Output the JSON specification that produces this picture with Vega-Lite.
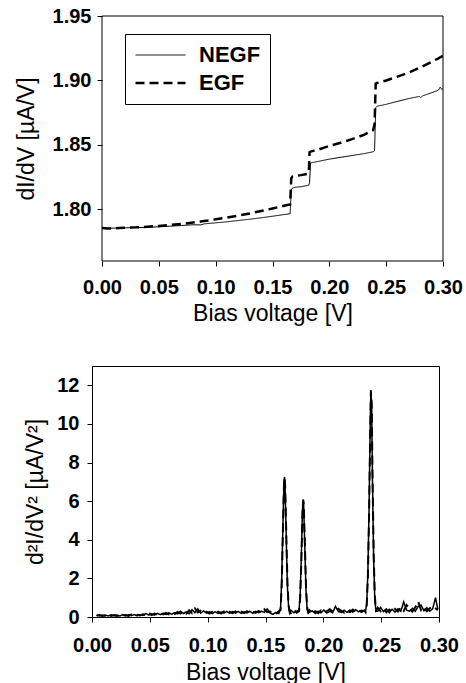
{
  "$schema": "https://vega.github.io/schema/vega-lite/v6.json",
  "padding": {"left": 15, "top": 6, "right": 0, "bottom": 0},
  "config": {
    "font": "Liberation Sans",
    "view": {"stroke": "black", "strokeWidth": 1},
    "axis": {
      "grid": false,
      "domainColor": "black",
      "tickColor": "black",
      "tickSize": 5,
      "labelFont": "Liberation Sans",
      "labelFontWeight": "bold",
      "labelFontSize": 20,
      "labelColor": "black",
      "labelFlush": false,
      "labelOverlap": false,
      "titleFont": "Liberation Sans",
      "titleFontWeight": "normal",
      "titleFontSize": 23,
      "titleColor": "black"
    }
  },
  "spacing": 40,
  "vconcat": [
    {
      "width": 351,
      "height": 245,
      "view": {"stroke": null},
      "layer": [
        {
          "data": {"values": [{}]},
          "mark": {"type": "rect", "fillOpacity": 0, "stroke": "black", "strokeWidth": 1},
          "encoding": {
            "x": {"datum": 0, "type": "quantitative"},
            "x2": {"datum": 0.3},
            "y": {"datum": 1.76, "type": "quantitative"},
            "y2": {"datum": 1.95}
          }
        },
        {
          "data": {"values": [
            {"v":0.000,"NEGF":1.7855,"EGF":1.7855},
            {"v":0.005,"NEGF":1.7854,"EGF":1.7853},
            {"v":0.010,"NEGF":1.7855,"EGF":1.7852},
            {"v":0.015,"NEGF":1.7856,"EGF":1.7855},
            {"v":0.020,"NEGF":1.7857,"EGF":1.7858},
            {"v":0.030,"NEGF":1.7859,"EGF":1.7861},
            {"v":0.040,"NEGF":1.7862,"EGF":1.7866},
            {"v":0.050,"NEGF":1.7865,"EGF":1.7872},
            {"v":0.060,"NEGF":1.7870,"EGF":1.7879},
            {"v":0.070,"NEGF":1.7875,"EGF":1.7888},
            {"v":0.080,"NEGF":1.7881,"EGF":1.7898},
            {"v":0.087,"NEGF":1.7880,"EGF":1.7906},
            {"v":0.090,"NEGF":1.7888,"EGF":1.7910},
            {"v":0.100,"NEGF":1.7896,"EGF":1.7923},
            {"v":0.110,"NEGF":1.7904,"EGF":1.7937},
            {"v":0.120,"NEGF":1.7914,"EGF":1.7952},
            {"v":0.130,"NEGF":1.7924,"EGF":1.7969},
            {"v":0.140,"NEGF":1.7935,"EGF":1.7988},
            {"v":0.150,"NEGF":1.7947,"EGF":1.8007},
            {"v":0.160,"NEGF":1.7960,"EGF":1.8028},
            {"v":0.1655,"NEGF":1.7966,"EGF":1.8039},
            {"v":0.1665,"NEGF":1.8150,"EGF":1.8240},
            {"v":0.1675,"NEGF":1.8165,"EGF":1.8255},
            {"v":0.170,"NEGF":1.8172,"EGF":1.8260},
            {"v":0.175,"NEGF":1.8176,"EGF":1.8266},
            {"v":0.1810,"NEGF":1.8186,"EGF":1.8276},
            {"v":0.1820,"NEGF":1.8188,"EGF":1.8300},
            {"v":0.1826,"NEGF":1.8210,"EGF":1.8443},
            {"v":0.1835,"NEGF":1.8360,"EGF":1.8448},
            {"v":0.1850,"NEGF":1.8363,"EGF":1.8452},
            {"v":0.190,"NEGF":1.8372,"EGF":1.8463},
            {"v":0.200,"NEGF":1.8390,"EGF":1.8492},
            {"v":0.210,"NEGF":1.8404,"EGF":1.8517},
            {"v":0.220,"NEGF":1.8418,"EGF":1.8545},
            {"v":0.230,"NEGF":1.8432,"EGF":1.8577},
            {"v":0.2385,"NEGF":1.8447,"EGF":1.8614},
            {"v":0.2398,"NEGF":1.8455,"EGF":1.8660},
            {"v":0.2408,"NEGF":1.8790,"EGF":1.8976},
            {"v":0.2420,"NEGF":1.8800,"EGF":1.8980},
            {"v":0.250,"NEGF":1.8815,"EGF":1.9000},
            {"v":0.260,"NEGF":1.8838,"EGF":1.9030},
            {"v":0.270,"NEGF":1.8860,"EGF":1.9062},
            {"v":0.279,"NEGF":1.8876,"EGF":1.9097},
            {"v":0.2805,"NEGF":1.8868,"EGF":1.9103},
            {"v":0.282,"NEGF":1.8880,"EGF":1.9110},
            {"v":0.290,"NEGF":1.8905,"EGF":1.9145},
            {"v":0.296,"NEGF":1.8925,"EGF":1.9172},
            {"v":0.2975,"NEGF":1.8948,"EGF":1.9180},
            {"v":0.2990,"NEGF":1.8930,"EGF":1.9186},
            {"v":0.300,"NEGF":1.8940,"EGF":1.9190}
          ]},
          "transform": [{"fold": ["NEGF", "EGF"], "as": ["series", "value"]}],
          "mark": {"type": "line", "color": "black", "clip": true},
          "encoding": {
            "x": {"field": "v", "type": "quantitative"},
            "y": {"field": "value", "type": "quantitative"},
            "strokeDash": {"field": "series", "type": "ordinal",
              "scale": {"domain": ["NEGF", "EGF"], "range": [[1, 0], [9, 5]]},
              "legend": {"orient": "none", "legendX": 33, "legendY": 18, "title": null, "strokeColor": "black", "fillColor": "white", "padding": 9, "symbolType": "stroke", "symbolSize": 2500, "clipHeight": 24, "rowPadding": 4, "labelFontSize": 22, "labelFontWeight": "bold", "labelFont": "Liberation Sans", "labelColor": "black", "labelOffset": 12, "symbolStrokeColor": "black"}},
            "strokeWidth": {"field": "series", "type": "ordinal",
              "scale": {"domain": ["NEGF", "EGF"], "range": [1, 2.5]},
              "legend": {"orient": "none", "legendX": 33, "legendY": 18, "title": null, "strokeColor": "black", "fillColor": "white", "padding": 9, "symbolType": "stroke", "symbolSize": 2500, "clipHeight": 24, "rowPadding": 4, "labelFontSize": 22, "labelFontWeight": "bold", "labelFont": "Liberation Sans", "labelColor": "black", "labelOffset": 12, "symbolStrokeColor": "black"}}
          }
        }
      ],
      "encoding": {
        "x": {"type": "quantitative",
          "scale": {"domain": [0, 0.3], "nice": false, "zero": false, "rangeMin": 10},
          "axis": {"values": [0, 0.05, 0.1, 0.15, 0.2, 0.25, 0.3], "format": ".2f", "title": "Bias voltage [V]", "labelPadding": 11, "titlePadding": 5, "domain": false}},
        "y": {"type": "quantitative",
          "scale": {"domain": [1.76, 1.95], "nice": false, "zero": false},
          "axis": {"values": [1.8, 1.85, 1.9, 1.95], "format": ".2f", "title": "dI/dV [µA/V]", "labelPadding": 6, "titlePadding": 14, "offset": -10, "domain": false}}
      }
    },
    {
      "width": 347,
      "height": 251,
      "data": {"values": [
        {"v":0.0040,"NEGF":0.05,"EGF":0.10},
        {"v":0.0065,"NEGF":0.12,"EGF":0.06},
        {"v":0.0090,"NEGF":0.04,"EGF":0.09},
        {"v":0.0115,"NEGF":0.10,"EGF":0.05},
        {"v":0.0140,"NEGF":0.05,"EGF":0.11},
        {"v":0.0165,"NEGF":0.11,"EGF":0.06},
        {"v":0.0190,"NEGF":0.06,"EGF":0.10},
        {"v":0.0215,"NEGF":0.10,"EGF":0.05},
        {"v":0.0240,"NEGF":0.05,"EGF":0.11},
        {"v":0.0265,"NEGF":0.12,"EGF":0.07},
        {"v":0.0290,"NEGF":0.06,"EGF":0.10},
        {"v":0.0315,"NEGF":0.11,"EGF":0.06},
        {"v":0.0340,"NEGF":0.07,"EGF":0.13},
        {"v":0.0365,"NEGF":0.13,"EGF":0.07},
        {"v":0.0390,"NEGF":0.06,"EGF":0.11},
        {"v":0.0415,"NEGF":0.12,"EGF":0.08},
        {"v":0.0440,"NEGF":0.08,"EGF":0.14},
        {"v":0.0465,"NEGF":0.18,"EGF":0.09},
        {"v":0.0490,"NEGF":0.10,"EGF":0.22},
        {"v":0.0515,"NEGF":0.16,"EGF":0.10},
        {"v":0.0540,"NEGF":0.10,"EGF":0.18},
        {"v":0.0565,"NEGF":0.19,"EGF":0.12},
        {"v":0.0590,"NEGF":0.12,"EGF":0.20},
        {"v":0.0615,"NEGF":0.20,"EGF":0.13},
        {"v":0.0640,"NEGF":0.13,"EGF":0.21},
        {"v":0.0665,"NEGF":0.22,"EGF":0.14},
        {"v":0.0690,"NEGF":0.14,"EGF":0.20},
        {"v":0.0715,"NEGF":0.23,"EGF":0.15},
        {"v":0.0740,"NEGF":0.16,"EGF":0.26},
        {"v":0.0765,"NEGF":0.30,"EGF":0.18},
        {"v":0.0790,"NEGF":0.18,"EGF":0.27},
        {"v":0.0815,"NEGF":0.27,"EGF":0.17},
        {"v":0.0840,"NEGF":0.17,"EGF":0.35},
        {"v":0.0865,"NEGF":0.38,"EGF":0.20},
        {"v":0.0890,"NEGF":0.22,"EGF":0.44},
        {"v":0.0915,"NEGF":0.42,"EGF":0.24},
        {"v":0.0940,"NEGF":0.20,"EGF":0.32},
        {"v":0.0965,"NEGF":0.31,"EGF":0.19},
        {"v":0.0990,"NEGF":0.20,"EGF":0.28},
        {"v":0.1015,"NEGF":0.28,"EGF":0.18},
        {"v":0.1040,"NEGF":0.18,"EGF":0.26},
        {"v":0.1065,"NEGF":0.27,"EGF":0.19},
        {"v":0.1090,"NEGF":0.19,"EGF":0.28},
        {"v":0.1115,"NEGF":0.26,"EGF":0.18},
        {"v":0.1140,"NEGF":0.20,"EGF":0.29},
        {"v":0.1165,"NEGF":0.29,"EGF":0.19},
        {"v":0.1190,"NEGF":0.19,"EGF":0.27},
        {"v":0.1215,"NEGF":0.28,"EGF":0.20},
        {"v":0.1240,"NEGF":0.20,"EGF":0.29},
        {"v":0.1265,"NEGF":0.29,"EGF":0.19},
        {"v":0.1290,"NEGF":0.19,"EGF":0.28},
        {"v":0.1315,"NEGF":0.27,"EGF":0.20},
        {"v":0.1340,"NEGF":0.21,"EGF":0.30},
        {"v":0.1365,"NEGF":0.30,"EGF":0.20},
        {"v":0.1390,"NEGF":0.19,"EGF":0.28},
        {"v":0.1415,"NEGF":0.29,"EGF":0.21},
        {"v":0.1440,"NEGF":0.22,"EGF":0.31},
        {"v":0.1465,"NEGF":0.30,"EGF":0.21},
        {"v":0.1490,"NEGF":0.24,"EGF":0.40},
        {"v":0.1515,"NEGF":0.42,"EGF":0.25},
        {"v":0.1540,"NEGF":0.20,"EGF":0.28},
        {"v":0.1565,"NEGF":0.14,"EGF":0.22},
        {"v":0.1590,"NEGF":0.24,"EGF":0.15},
        {"v":0.1615,"NEGF":0.18,"EGF":0.30},
        {"v":0.1630,"NEGF":0.45,"EGF":0.35},
        {"v":0.1640,"NEGF":1.9,"EGF":1.6},
        {"v":0.1650,"NEGF":4.6,"EGF":4.3},
        {"v":0.1660,"NEGF":7.1,"EGF":6.9},
        {"v":0.1665,"NEGF":7.25,"EGF":7.2},
        {"v":0.1670,"NEGF":6.6,"EGF":6.8},
        {"v":0.1680,"NEGF":3.9,"EGF":4.2},
        {"v":0.1690,"NEGF":1.5,"EGF":1.7},
        {"v":0.1700,"NEGF":0.5,"EGF":0.6},
        {"v":0.1710,"NEGF":0.2,"EGF":0.25},
        {"v":0.1720,"NEGF":0.35,"EGF":0.20},
        {"v":0.1745,"NEGF":0.22,"EGF":0.38},
        {"v":0.1770,"NEGF":0.30,"EGF":0.22},
        {"v":0.1790,"NEGF":0.35,"EGF":0.3},
        {"v":0.1800,"NEGF":1.2,"EGF":1.0},
        {"v":0.1810,"NEGF":3.2,"EGF":2.9},
        {"v":0.1820,"NEGF":5.6,"EGF":5.4},
        {"v":0.1826,"NEGF":6.1,"EGF":6.05},
        {"v":0.1830,"NEGF":5.8,"EGF":5.9},
        {"v":0.1840,"NEGF":3.6,"EGF":3.9},
        {"v":0.1850,"NEGF":1.4,"EGF":1.6},
        {"v":0.1860,"NEGF":0.4,"EGF":0.5},
        {"v":0.1870,"NEGF":0.2,"EGF":0.25},
        {"v":0.1880,"NEGF":0.25,"EGF":0.35},
        {"v":0.1905,"NEGF":0.32,"EGF":0.18},
        {"v":0.1930,"NEGF":0.18,"EGF":0.30},
        {"v":0.1955,"NEGF":0.30,"EGF":0.20},
        {"v":0.1980,"NEGF":0.22,"EGF":0.34},
        {"v":0.2005,"NEGF":0.36,"EGF":0.22},
        {"v":0.2030,"NEGF":0.20,"EGF":0.30},
        {"v":0.2055,"NEGF":0.30,"EGF":0.40},
        {"v":0.2080,"NEGF":0.22,"EGF":0.30},
        {"v":0.2105,"NEGF":0.55,"EGF":0.28},
        {"v":0.2130,"NEGF":0.28,"EGF":0.42},
        {"v":0.2155,"NEGF":0.24,"EGF":0.32},
        {"v":0.2180,"NEGF":0.35,"EGF":0.22},
        {"v":0.2205,"NEGF":0.24,"EGF":0.36},
        {"v":0.2230,"NEGF":0.36,"EGF":0.25},
        {"v":0.2255,"NEGF":0.25,"EGF":0.38},
        {"v":0.2280,"NEGF":0.38,"EGF":0.26},
        {"v":0.2305,"NEGF":0.27,"EGF":0.36},
        {"v":0.2330,"NEGF":0.35,"EGF":0.25},
        {"v":0.2355,"NEGF":0.30,"EGF":0.34},
        {"v":0.2365,"NEGF":0.3,"EGF":0.25},
        {"v":0.2375,"NEGF":0.7,"EGF":0.6},
        {"v":0.2385,"NEGF":2.3,"EGF":2.0},
        {"v":0.2395,"NEGF":5.5,"EGF":5.1},
        {"v":0.2405,"NEGF":9.8,"EGF":9.5},
        {"v":0.2411,"NEGF":11.75,"EGF":11.7},
        {"v":0.2418,"NEGF":10.8,"EGF":11.1},
        {"v":0.2425,"NEGF":7.0,"EGF":7.5},
        {"v":0.2435,"NEGF":3.0,"EGF":3.3},
        {"v":0.2445,"NEGF":0.9,"EGF":1.1},
        {"v":0.2455,"NEGF":0.3,"EGF":0.35},
        {"v":0.2470,"NEGF":0.30,"EGF":0.48},
        {"v":0.2495,"NEGF":0.50,"EGF":0.30},
        {"v":0.2520,"NEGF":0.28,"EGF":0.45},
        {"v":0.2545,"NEGF":0.42,"EGF":0.25},
        {"v":0.2570,"NEGF":0.22,"EGF":0.38},
        {"v":0.2595,"NEGF":0.40,"EGF":0.26},
        {"v":0.2620,"NEGF":0.25,"EGF":0.42},
        {"v":0.2645,"NEGF":0.42,"EGF":0.28},
        {"v":0.2670,"NEGF":0.30,"EGF":0.50},
        {"v":0.2695,"NEGF":0.78,"EGF":0.32},
        {"v":0.2720,"NEGF":0.35,"EGF":0.62},
        {"v":0.2745,"NEGF":0.30,"EGF":0.45},
        {"v":0.2770,"NEGF":0.45,"EGF":0.28},
        {"v":0.2795,"NEGF":0.30,"EGF":0.50},
        {"v":0.2820,"NEGF":0.55,"EGF":0.80},
        {"v":0.2845,"NEGF":0.62,"EGF":0.35},
        {"v":0.2870,"NEGF":0.32,"EGF":0.50},
        {"v":0.2895,"NEGF":0.48,"EGF":0.30},
        {"v":0.2920,"NEGF":0.30,"EGF":0.45},
        {"v":0.2945,"NEGF":0.42,"EGF":0.55},
        {"v":0.2970,"NEGF":1.00,"EGF":0.45},
        {"v":0.2990,"NEGF":0.40,"EGF":0.35}
      ]},
      "transform": [{"fold": ["NEGF", "EGF"], "as": ["series", "value"]}],
      "mark": {"type": "line", "color": "black", "clip": true},
      "encoding": {
        "x": {"field": "v", "type": "quantitative",
          "scale": {"domain": [0, 0.3], "nice": false, "zero": false},
          "axis": {"values": [0, 0.05, 0.1, 0.15, 0.2, 0.25, 0.3], "format": ".2f", "title": "Bias voltage [V]", "labelPadding": 13, "titlePadding": 6}},
        "y": {"field": "value", "type": "quantitative",
          "scale": {"domain": [0, 13], "nice": false},
          "axis": {"values": [0, 2, 4, 6, 8, 10, 12], "format": "d", "title": "d²I/dV² [µA/V²]", "labelPadding": 8, "titlePadding": 9}},
        "strokeDash": {"field": "series", "type": "ordinal",
          "scale": {"domain": ["NEGF", "EGF"], "range": [[1, 0], [9, 5]]}, "legend": null},
        "strokeWidth": {"field": "series", "type": "ordinal",
          "scale": {"domain": ["NEGF", "EGF"], "range": [1.5, 2]}, "legend": null}
      }
    }
  ],
  "resolve": {
    "scale": {"x": "independent", "y": "independent", "strokeDash": "independent", "strokeWidth": "independent"},
    "legend": {"strokeDash": "independent", "strokeWidth": "independent"}
  }
}
